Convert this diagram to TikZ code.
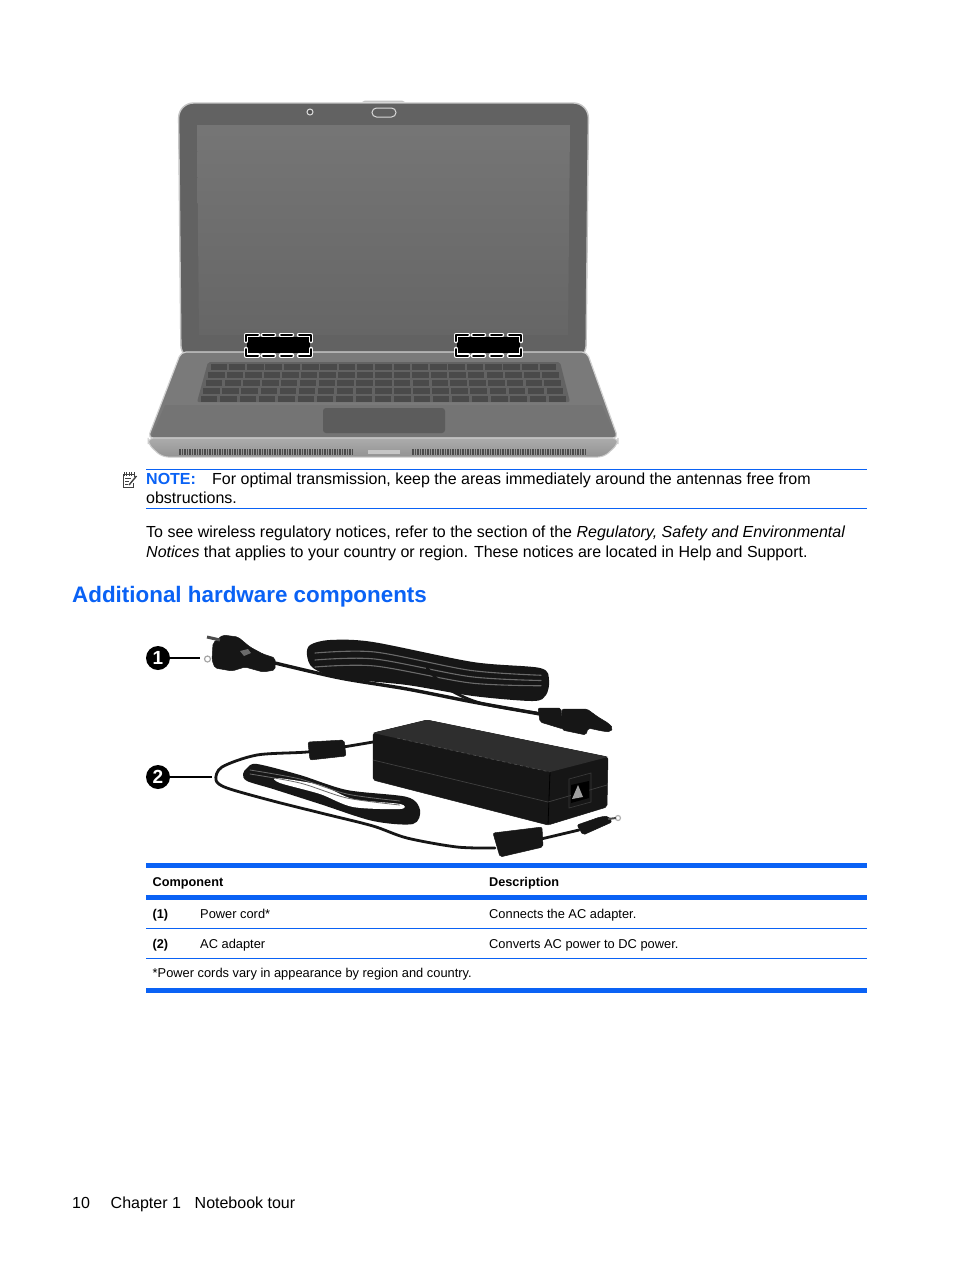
\documentclass[tikz,border=0pt]{standalone}
\usepackage{fontspec}
\setmainfont{Liberation Sans}
\usetikzlibrary{
    positioning
}
\definecolor{hpblue}{HTML}{0A62F5}
\definecolor{casegray}{HTML}{626262}
\definecolor{deckgray}{HTML}{7A7A7A}
\definecolor{cordblack}{HTML}{161616}
\definecolor{cordshine}{HTML}{6A6A6A}
\tikzset{
    bodytext/.style={anchor=base west,inner sep=0pt,font=\fontsize{16}{19}\selectfont},
    tabletext/.style={anchor=base west,inner sep=0pt,font=\fontsize{12.85}{15}\selectfont},
    tablehead/.style={tabletext,font=\fontsize{12.7}{15}\selectfont\bfseries},
    callout/.style={circle,fill=black,text=white,inner sep=0pt,minimum size=24pt,font=\fontsize{19}{19}\selectfont\bfseries},
    thinrule/.style={hpblue,line width=1.1pt},
    thickrule/.style={hpblue,line width=4.6pt},
    cordline/.style={cordblack,line width=2.8pt,line cap=round},
    shine/.style={cordshine,line width=1.1pt,line cap=round},
    blob/.style={fill=cordblack,draw=cordblack,line width=.5pt,rounded corners=2pt},
    bracketwhite/.style={white,line width=4.6pt,line join=round,line cap=round},
    bracketblack/.style={black,line width=2pt,line join=round,line cap=round}
}
\begin{document}
\begin{tikzpicture}[x=1pt,y=-1pt]
    \useasboundingbox[fill=white] (0,0) rectangle (954,1270);
    % laptop lid
    \fill[gray!45] (362,102) -- (365,100.5) -- (402,100.5) -- (405,102) -- cycle;
    \draw[draw=gray!45,line width=1.4pt,fill=casegray,rounded corners=15pt]
        (181,360) -- (178.5,103) -- (588.5,103) -- (586,360) -- cycle;
    \shade[top color=gray!92!black,bottom color=gray!80!black]
        (197,125) -- (570,125) -- (568,335) -- (199,335) -- cycle;
    \draw[gray!25,line width=1pt,fill=gray!65!black] (310,112) circle (3pt);
    \draw[gray!30,line width=1pt,fill=gray!75!black,rounded corners=4.5pt] (372,108) rectangle (396,117);
    % base
    \draw[draw=gray!35,line width=1.2pt,fill=deckgray,rounded corners=5pt]
        (181,352) -- (587,352) -- (618,438) -- (148,438) -- cycle;
    \fill[gray!70!black,opacity=.18] (165,405) -- (602,405) -- (616,437) -- (151,437) -- cycle;
    \fill[gray!78!black,rounded corners=2pt] (208,362) -- (560,362) -- (570,402) -- (197,402) -- cycle;
    \foreach \row in {0,...,4}
        \foreach \col in {0,...,18}
            \fill[gray!58!black]
                ({210.5-2.4*\row+\col*(18.3+.26*\row)},{364+7.9*\row}) rectangle +(16.5,6.2);
    \fill[gray!72!black,rounded corners=3pt] (323,408) rectangle (445,433);
    \shade[draw=gray!40,line width=1pt,top color=gray!65,bottom color=gray!85,rounded corners=6pt]
        (148,438) -- (618,438) -- (618,444) -- (604,457) -- (162,457) -- (148,444) -- cycle;
    \foreach \x in {180,182.5,...,353}
        \draw[black!70,line width=1.1pt] (\x,449) -- (\x,455);
    \foreach \x in {413,415.5,...,587}
        \draw[black!70,line width=1.1pt] (\x,449) -- (\x,455);
    \fill[gray!45] (368,450) rectangle (400,454);
    % antennas
    \foreach \dx in {0,210} {
        \begin{scope}[xshift=\dx pt]
            \fill[black] (247,337) rectangle (310,353);
            \foreach \pen in {bracketwhite,bracketblack}
                \draw[\pen] (246,341) -- (246,335) -- (258,335) (263,335) -- (274,335) (281,335) -- (292,335)
                    (299,335) -- (311,335) -- (311,341)
                    (246,349) -- (246,355.5) -- (258,355.5) (263,355.5) -- (274,355.5) (281,355.5) -- (292,355.5)
                    (299,355.5) -- (311,355.5) -- (311,349);
            \fill[black] (250,338.5) rectangle (307,352.5);
        \end{scope}
    }
    % note
    \draw[black!75,line width=1pt] (134,477) -- (134,474) -- (123,474) -- (123,487) -- (133,487) -- (133,483);
    \foreach \x in {124,126.5,...,134}
        \draw[black!75,line width=.8pt] (\x,472) -- (\x,475.5);
    \draw[black!75,line width=.7pt] (125,478) -- (131,478) (125,481) -- (129,481) (125,484) -- (128,484);
    \draw[black!75,line width=1.4pt] (129,485) -- (136.5,476);
    \draw[thinrule] (146,469.5) -- (867,469.5);
    \node[bodytext,hpblue,font=\fontsize{16}{19}\selectfont\bfseries] (notehead) at (146,484) {NOTE:};
    \node[bodytext] (noteone) at (212,484) {For optimal transmission, keep the areas immediately around the antennas free from};
    \node[bodytext] (notetwo) at (146,503) {obstructions.};
    \draw[thinrule] (146,508.5) -- (867,508.5);
    \node[bodytext] (paraone) at (146,537) {To see wireless regulatory notices, refer to the section of the \textit{Regulatory, Safety and Environmental}};
    \node[bodytext] (paratwo) at (146,557) {\textit{Notices} that applies to your country or region. These notices are located in Help and Support.};
    \node[bodytext,hpblue,font=\fontsize{22.4}{28}\selectfont\bfseries] (heading) at (72,602) {Additional hardware components};
    % power cord
    \fill[cordblack] plot[smooth cycle] coordinates {(310,645) (330,640) (373,642) (473,662) (540,668) (549,680) (546,695) (533,701) (473,696) (407,685) (340,678) (313,668) (307,655)};
    \foreach \off in {7,14,21}
        \draw[shine] plot[smooth] coordinates {(315,{646+\off}) (375,{645+\off}) (470,{664+\off*.9}) (541,{670+\off*.75})};
    \draw[cordline] plot[smooth] coordinates {(427,668) (447,688) (480,703) (537,713)};
    \draw[cordline,line width=3.4pt] plot[smooth] coordinates {(275,663) (340,678) (407,689) (473,702) (540,714)};
    \fill[blob] (213,643) -- (223,635) -- (238,637) -- (250,647) -- (263,654) -- (275,658) -- (275,670) -- (263,672) -- (245,667) -- (232,671) -- (215,668) -- (212,660) -- cycle;
    \draw[gray!60!black,line width=3pt] (207,637) -- (220,640);
    \draw[gray!70,line width=1.2pt,fill=white] (207.5,659) circle (3pt);
    \fill[cordshine] (240,651) -- (248,649) -- (251,653) -- (244,656) -- cycle;
    \fill[blob] (538,708) -- (561,708) -- (563,729) -- (540,722) -- cycle;
    \fill[blob] (562,709) -- (587,709) -- (598,717) -- (608,723) -- (613,728) -- (610,732) -- (602,731) -- (588,728) -- (586,735) -- (562,730) -- cycle;
    % adapter
    \fill[blob] (373,733) -- (427,720) -- (608,757) -- (607,807) -- (548,825) -- (373,780) -- cycle;
    \fill[black!82] (373,733) -- (427,720) -- (608,757) -- (550,772) -- cycle;
    \draw[gray!60!black,line width=.7pt,dashed] (397,738) -- (550,772);
    \draw[black,line width=.8pt] (550,772) -- (548,825);
    \draw[black!75,line width=.7pt] (373,760) -- (548,802) -- (607,785);
    \draw[gray!45!black,line width=.7pt] (569,779) -- (591,773) -- (591,802) -- (569,808) -- cycle;
    \fill[black] (571,785) -- (589,781) -- (589,798) -- (571,803) -- cycle;
    \fill[gray!75] (578,785) -- (583,797) -- (572,799) -- cycle;
    \fill[cordblack] plot[smooth cycle] coordinates {(247,768) (257,764) (300,775) (347,790) (407,797) (420,810) (413,824) (373,821) (320,804) (273,789) (247,781) (243,774)};
    \fill[white] plot[smooth cycle] coordinates {(277,778) (320,785) (353,799) (400,804) (400,809) (353,807) (320,794) (280,783)};
    \foreach \off in {4,8}
        \draw[shine,line width=.8pt] plot[smooth] coordinates {(250,{766+\off}) (300,{775+\off}) (347,{790+\off}) (400,{797+\off})};
    \draw[cordline] plot[smooth] coordinates {(373,742) (343,747) (307,752) (257,755) (222,767) (216,780) (227,788) (273,801) (325,814) (373,826) (407,838) (457,847) (495,848)};
    \fill[blob] (308,742) -- (344,740) -- (346,756) -- (310,760) -- cycle;
    \fill[blob] (493,833) -- (542,827) -- (543,847) -- (500,857) -- cycle;
    \draw[cordline] (541,839) -- (579,830);
    \fill[blob] (577,825) -- (600,817) -- (608,816) -- (612,822) -- (583,835) -- cycle;
    \draw[gray!60,line width=1.2pt] (618,818) circle (2.5pt);
    \draw[black!70,line width=2pt] (608,819) -- (616,818);
    % callouts
    \node[callout] (calloutone) at (158,658) {1};
    \node[callout] (callouttwo) at (158,777) {2};
    \coordinate (plugend) at (200,658);
    \coordinate (cordend) at (212,777);
    \draw[black,line width=1.2pt] (calloutone) -- (plugend);
    \draw[black,line width=1.2pt] (callouttwo) -- (cordend);
    % table
    \draw[thickrule] (146,865.5) -- (867,865.5);
    \node[tablehead] (compcol) at (152.5,886) {Component};
    \node[tablehead] (desccol) at (489,886) {Description};
    \draw[thickrule] (146,897.5) -- (867,897.5);
    \node[tablehead] (rownumone) at (152.5,918) {(1)};
    \node[tabletext] (cordname) at (200,918) {Power cord*};
    \node[tabletext] (corddesc) at (489,918) {Connects the AC adapter.};
    \draw[thinrule] (146,928.5) -- (867,928.5);
    \node[tablehead] (rownumtwo) at (152.5,948) {(2)};
    \node[tabletext] (adaptname) at (200,948) {AC adapter};
    \node[tabletext] (adaptdesc) at (489,948) {Converts AC power to DC power.};
    \draw[thinrule] (146,958.5) -- (867,958.5);
    \node[tabletext] (footnote) at (152.5,977) {*Power cords vary in appearance by region and country.};
    \draw[thickrule] (146,990.5) -- (867,990.5);
    % footer
    \node[bodytext] (pagenum) at (72,1208) {10};
    \node[bodytext] (chapter) at (110.5,1208) {Chapter 1};
    \node[bodytext] (section) at (194.5,1208) {Notebook tour};
\end{tikzpicture}
\end{document}
